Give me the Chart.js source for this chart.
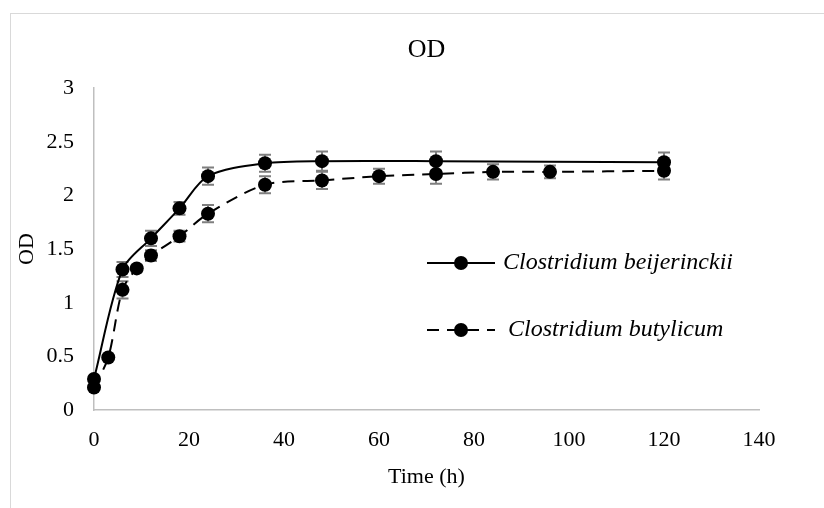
<!DOCTYPE html>
<html>
<head>
<meta charset="utf-8">
<script src="https://cdn.jsdelivr.net/npm/chart.js@4"></script>
<style>
  body { margin: 0; background: #fff; }
  #frame { position: absolute; left: 10px; top: 13px; width: 900px; height: 600px; border: 1px solid #d9d9d9; }
  #c { position: absolute; left: 0; top: 0; }
</style>
</head>
<body>
<div id="frame"></div>
<canvas id="c" width="824" height="508"></canvas>
<script>
// sampling times (h), mean OD and standard deviation for each strain
const timeBeij = [0, 6, 12, 18, 24, 36, 48, 72, 120]
const odBeij = [0.29, 1.31, 1.60, 1.88, 2.18, 2.30, 2.32, 2.32, 2.31]
const errBeij = [0.02, 0.07, 0.07, 0.06, 0.08, 0.08, 0.09, 0.09, 0.09]

const timeButy = [0, 3, 6, 9, 12, 18, 24, 36, 48, 60, 72, 84, 96, 120]
const odButy = [0.21, 0.49, 1.12, 1.32, 1.44, 1.62, 1.83, 2.10, 2.14, 2.18, 2.20, 2.22, 2.22, 2.23]
const errButy = [0.02, 0.02, 0.08, 0.03, 0.05, 0.05, 0.08, 0.08, 0.08, 0.07, 0.09, 0.07, 0.06, 0.08]

const seriesNames = ['Clostridium beijerinckii', 'Clostridium butylicum']

const points = (xs, ys, es) => xs.map((x, i) => ({ x, y: ys[i], err: es[i] }))

const serif = 'Liberation Serif, Times New Roman, serif'

// vertical error bars with caps, drawn under the markers
const errorBars = {
  id: 'errorBars',
  beforeDatasetsDraw(chart) {
    const { ctx, scales: { x, y } } = chart
    ctx.save()
    ctx.strokeStyle = '#7f7f7f'
    ctx.lineWidth = 2
    chart.data.datasets.forEach((ds) => {
      ds.data.forEach((p) => {
        const px = x.getPixelForValue(p.x)
        const top = y.getPixelForValue(p.y + p.err)
        const bot = y.getPixelForValue(p.y - p.err)
        ctx.beginPath()
        ctx.moveTo(px, top)
        ctx.lineTo(px, bot)
        ctx.moveTo(px - 6, top)
        ctx.lineTo(px + 6, top)
        ctx.moveTo(px - 6, bot)
        ctx.lineTo(px + 6, bot)
        ctx.stroke()
      })
    })
    ctx.restore()
  },
}

// legend sitting inside the plot, right of centre
const insideLegend = {
  id: 'insideLegend',
  afterDraw(chart) {
    const ctx = chart.ctx
    const rows = [263, 330]
    const textX = [503, 508]
    ctx.save()
    chart.data.datasets.forEach((ds, i) => {
      const y = rows[i]
      ctx.strokeStyle = ds.borderColor
      ctx.lineWidth = ds.borderWidth
      ctx.setLineDash(ds.borderDash || [])
      ctx.beginPath()
      ctx.moveTo(427, y)
      ctx.lineTo(495, y)
      ctx.stroke()
      ctx.setLineDash([])
      ctx.fillStyle = ds.pointBackgroundColor
      ctx.beginPath()
      ctx.arc(461, y, ds.pointRadius, 0, Math.PI * 2)
      ctx.fill()
      ctx.fillStyle = '#000'
      ctx.font = 'italic 24px ' + serif
      ctx.textBaseline = 'middle'
      ctx.textAlign = 'left'
      ctx.fillText(ds.label, textX[i], y)
    })
    ctx.restore()
  },
}

new Chart(document.getElementById('c'), {
  type: 'line',
  data: {
    datasets: [
      {
        label: seriesNames[0],
        data: points(timeBeij, odBeij, errBeij),
        borderColor: '#000',
        borderWidth: 2,
        pointRadius: 7,
        pointBackgroundColor: '#000',
        pointBorderWidth: 0,
        tension: 0.3,
        clip: false,
      },
      {
        label: seriesNames[1],
        data: points(timeButy, odButy, errButy),
        borderColor: '#000',
        borderWidth: 2,
        borderDash: [12, 8],
        pointRadius: 7,
        pointBackgroundColor: '#000',
        pointBorderWidth: 0,
        tension: 0.3,
        clip: false,
      },
    ],
  },
  options: {
    responsive: false,
    animation: false,
    devicePixelRatio: 1,
    layout: { padding: { left: 10, right: 65, top: 0, bottom: 0 } },
    plugins: {
      legend: { display: false },
      tooltip: { enabled: false },
      title: {
        display: true,
        text: 'OD',
        color: '#000',
        fullSize: false,
        font: { family: serif, size: 26, weight: 'normal', lineHeight: 1.2 },
        padding: { top: 35, bottom: 22 },
      },
    },
    scales: {
      x: {
        type: 'linear',
        min: 0,
        max: 140,
        grid: { display: false, drawTicks: false },
        border: { display: true, color: '#bfbfbf', width: 1.5 },
        ticks: { stepSize: 20, color: '#000', padding: 17, font: { family: serif, size: 22 } },
        title: {
          display: true,
          text: 'Time (h)',
          color: '#000',
          font: { family: serif, size: 22, lineHeight: 1.2 },
          padding: { top: 0, bottom: 18 },
        },
        afterFit(scale) { scale.height = 98 },
      },
      y: {
        min: 0,
        max: 3,
        grid: { display: false, drawTicks: false },
        border: { display: true, color: '#bfbfbf', width: 1.5 },
        ticks: {
          stepSize: 0.5,
          color: '#000',
          padding: 20,
          font: { family: serif, size: 22 },
          callback: (v) => String(Math.round(v * 10) / 10),
        },
        title: {
          display: true,
          text: 'OD',
          color: '#000',
          font: { family: serif, size: 22, lineHeight: 1.2 },
          padding: { top: 4, bottom: 0 },
        },
        afterFit(scale) { scale.width = 84 },
      },
    },
  },
  plugins: [errorBars, insideLegend],
})
</script>
</body>
</html>
